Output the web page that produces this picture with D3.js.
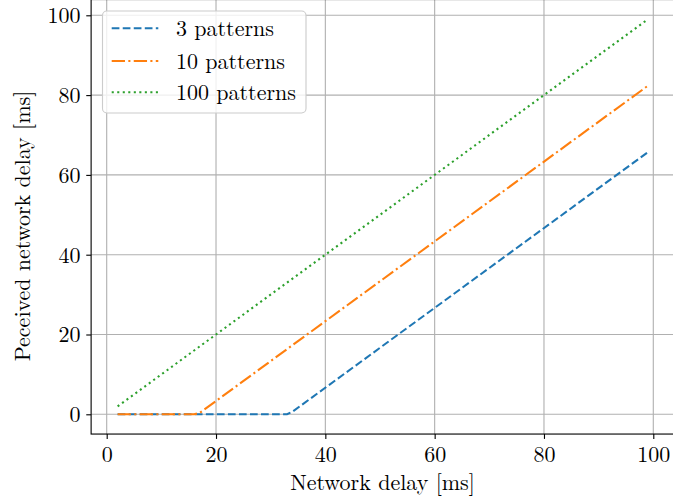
<!DOCTYPE html>
<html>
<head>
<meta charset="utf-8">
<script src="https://cdn.jsdelivr.net/npm/d3@7"></script>
<style>
  html, body { margin: 0; padding: 0; background: #fff; }
  svg { display: block; }
</style>
</head>
<body>
<svg id="chart" width="673" height="503"></svg>
<script>
// Network delay (x) and perceived delay (y) for each pattern count
const delay3 = [2, 33, 34, 99];
const perceived3 = [0, 0, 0.67, 65.67];
const delay10 = [2, 16, 17, 99];
const perceived10 = [0, 0, 0.33, 82.33];
const delay100 = [2, 99];
const perceived100 = [2, 99];

const seriesNames = ["3 patterns", "10 patterns", "100 patterns"];
const seriesColors = ["#1f77b4", "#ff7f0e", "#2ca02c"];
const seriesDashes = ["7.7,3.33", "13.3,3.33,2.08,3.33", "2.08,3.44"];

const xTicks = [0, 20, 40, 60, 80, 100];
const yTicks = [0, 20, 40, 60, 80, 100];

const svg = d3.select("#chart");
const FONT = '"Latin Modern Roman", "Liberation Serif", "DejaVu Serif"';
const tickFont = 22;
const titleFont = 22;
const legendFont = 22;

const x = d3.scaleLinear().domain([-2.85, 103.85]).range([91.12, 674.34]);
const y = d3.scaleLinear().domain([-4.95, 103.95]).range([434.05, -0.46]);

const plot = svg.append("g");

// grid
plot.append("g").selectAll("line").data(xTicks).join("line")
  .attr("x1", d => x(d)).attr("x2", d => x(d))
  .attr("y1", y.range()[0]).attr("y2", y.range()[1])
  .attr("stroke", "#b0b0b0").attr("stroke-width", 1.11);
plot.append("g").selectAll("line").data(yTicks).join("line")
  .attr("x1", x.range()[0]).attr("x2", x.range()[1])
  .attr("y1", d => y(d)).attr("y2", d => y(d))
  .attr("stroke", "#b0b0b0").attr("stroke-width", 1.11);

// series lines
const series = [
  { xs: delay3, ys: perceived3 },
  { xs: delay10, ys: perceived10 },
  { xs: delay100, ys: perceived100 }
];
const line = d3.line().x(d => x(d[0])).y(d => y(d[1]));
series.forEach((s, i) => {
  const pts = s.xs.map((v, j) => [v, s.ys[j]]);
  plot.append("path")
    .attr("d", line(pts))
    .attr("fill", "none")
    .attr("stroke", seriesColors[i])
    .attr("stroke-width", 2.08)
    .attr("stroke-dasharray", seriesDashes[i])
    .attr("stroke-linecap", "butt");
});

// frame
plot.append("rect")
  .attr("x", x.range()[0]).attr("y", y.range()[1])
  .attr("width", x.range()[1] - x.range()[0])
  .attr("height", y.range()[0] - y.range()[1])
  .attr("fill", "none").attr("stroke", "#000").attr("stroke-width", 1.11);

// axes
const xAxis = d3.axisBottom(x).tickValues(xTicks).tickSize(4.86).tickPadding(6).tickFormat(d3.format("d"));
const yAxis = d3.axisLeft(y).tickValues(yTicks).tickSize(4.86).tickPadding(5).tickFormat(d3.format("d"));

const gx = svg.append("g").attr("transform", `translate(0,${y.range()[0]})`).call(xAxis);
const gy = svg.append("g").attr("transform", `translate(${x.range()[0]},0)`).call(yAxis);
[gx, gy].forEach(g => {
  g.select(".domain").remove();
  g.selectAll(".tick line").attr("stroke", "#000").attr("stroke-width", 1.11);
  g.selectAll(".tick text")
    .style("font-family", FONT)
    .style("font-size", tickFont + "px")
    .attr("fill", "#000");
});
gx.selectAll(".tick text").attr("dy", null).attr("y", 28);
gy.selectAll(".tick text").attr("dy", null).attr("y", 7.5).attr("x", -10.5);

// axis titles
svg.append("text")
  .attr("x", 382.5).attr("y", 490)
  .attr("text-anchor", "middle")
  .style("font-family", FONT)
  .style("font-size", titleFont + "px")
  .text("Network delay [ms]");
svg.append("text")
  .attr("transform", "translate(30,226) rotate(-90)")
  .attr("text-anchor", "middle")
  .style("font-family", FONT)
  .style("font-size", titleFont + "px")
  .text("Peceived network delay [ms]");

// legend
const legend = svg.append("g");
legend.append("rect")
  .attr("x", 102.5).attr("y", 11).attr("width", 203.5).attr("height", 102)
  .attr("rx", 4.4).attr("ry", 4.4)
  .attr("fill", "#fff").attr("fill-opacity", 0.8)
  .attr("stroke", "#cccccc").attr("stroke-width", 1.11);
const rowY = [28.3, 61, 92.3];
seriesNames.forEach((name, i) => {
  legend.append("line")
    .attr("x1", 111.7).attr("x2", 158.3)
    .attr("y1", rowY[i]).attr("y2", rowY[i])
    .attr("stroke", seriesColors[i]).attr("stroke-width", 2.08)
    .attr("stroke-dasharray", seriesDashes[i]);
  legend.append("text")
    .attr("x", 176).attr("y", rowY[i] + 8)
    .style("font-family", FONT)
    .style("font-size", legendFont + "px")
    .text(name);
});
</script>
</body>
</html>
